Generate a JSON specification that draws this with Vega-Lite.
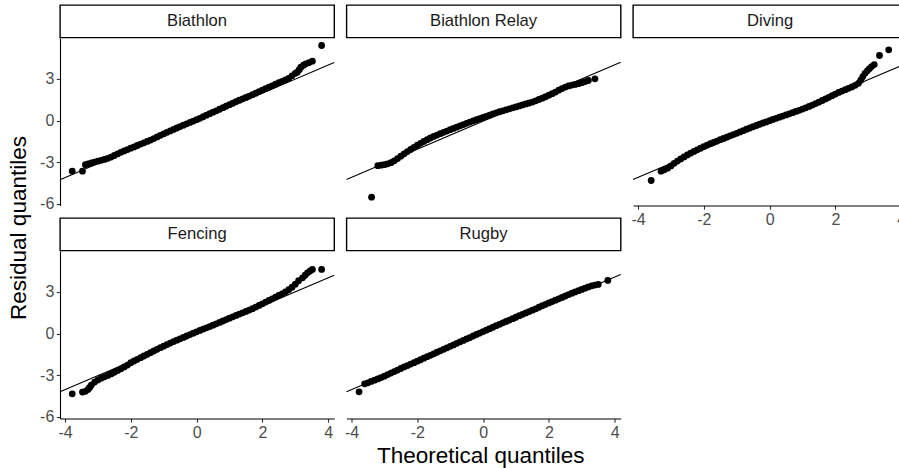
{
"$schema": "https://vega.github.io/schema/vega-lite/v6.json",
"padding": {"left": 7, "top": 4, "right": 0, "bottom": 0},
"background": "white",
"config": {
  "view": {"stroke": null},
  "font": "Liberation Sans",
  "axis": {"grid": false, "domainColor": "black", "domainWidth": 1.1, "tickColor": "#333333", "tickWidth": 1.1, "tickSize": 3.7, "labelColor": "#4D4D4D", "labelFontSize": 16, "labelPadding": 2.5, "labelFlush": false, "titleFontSize": 22.5, "titleFontWeight": "normal", "titleColor": "black", "labelFont": "Liberation Sans", "titleFont": "Liberation Sans", "titlePadding": 4, "labelExpr": "replace(datum.label, '\u2212', '-')"}
},
"datasets": {
  "qqline": [
    {"sport": "Biathlon", "theoretical": -4.152, "residual": -4.27, "theoretical_end": 4.182, "residual_end": 4.18},
    {"sport": "Biathlon Relay", "theoretical": -4.152, "residual": -4.25, "theoretical_end": 4.182, "residual_end": 4.20},
    {"sport": "Diving", "theoretical": -4.152, "residual": -4.25, "theoretical_end": 4.182, "residual_end": 4.13},
    {"sport": "Fencing", "theoretical": -4.152, "residual": -4.20, "theoretical_end": 4.182, "residual_end": 4.20},
    {"sport": "Rugby", "theoretical": -4.152, "residual": -4.20, "theoretical_end": 4.182, "residual_end": 4.25}
  ],
  "Biathlon": [
    {"theoretical": -3.78, "residual": -3.65}, {"theoretical": -3.47, "residual": -3.65}, {"theoretical": -3.38, "residual": -3.18},
    {"theoretical": -3.3, "residual": -3.12}, {"theoretical": -3.2, "residual": -3.06}, {"theoretical": -3.1, "residual": -2.99},
    {"theoretical": -3.0, "residual": -2.93}, {"theoretical": -2.9, "residual": -2.87}, {"theoretical": -2.8, "residual": -2.80},
    {"theoretical": -2.7, "residual": -2.72}, {"theoretical": -2.6, "residual": -2.63}, {"theoretical": -2.5, "residual": -2.52},
    {"theoretical": -2.4, "residual": -2.40}, {"theoretical": -2.3, "residual": -2.29}, {"theoretical": -2.2, "residual": -2.19},
    {"theoretical": -2.1, "residual": -2.09}, {"theoretical": -2.0, "residual": -1.99}, {"theoretical": -1.9, "residual": -1.90},
    {"theoretical": -1.8, "residual": -1.80}, {"theoretical": -1.7, "residual": -1.70}, {"theoretical": -1.6, "residual": -1.61},
    {"theoretical": -1.5, "residual": -1.51}, {"theoretical": -1.4, "residual": -1.41}, {"theoretical": -1.3, "residual": -1.30},
    {"theoretical": -1.2, "residual": -1.18}, {"theoretical": -1.1, "residual": -1.07}, {"theoretical": -1.0, "residual": -0.96},
    {"theoretical": -0.9, "residual": -0.85}, {"theoretical": -0.8, "residual": -0.75}, {"theoretical": -0.7, "residual": -0.64},
    {"theoretical": -0.6, "residual": -0.54}, {"theoretical": -0.5, "residual": -0.44}, {"theoretical": -0.4, "residual": -0.34},
    {"theoretical": -0.3, "residual": -0.24}, {"theoretical": -0.2, "residual": -0.14}, {"theoretical": -0.1, "residual": -0.04},
    {"theoretical": 0.0, "residual": 0.06}, {"theoretical": 0.1, "residual": 0.16}, {"theoretical": 0.2, "residual": 0.27},
    {"theoretical": 0.3, "residual": 0.38}, {"theoretical": 0.4, "residual": 0.49}, {"theoretical": 0.5, "residual": 0.60},
    {"theoretical": 0.6, "residual": 0.70}, {"theoretical": 0.7, "residual": 0.81}, {"theoretical": 0.8, "residual": 0.92},
    {"theoretical": 0.9, "residual": 1.03}, {"theoretical": 1.0, "residual": 1.14}, {"theoretical": 1.1, "residual": 1.25},
    {"theoretical": 1.2, "residual": 1.36}, {"theoretical": 1.3, "residual": 1.46}, {"theoretical": 1.4, "residual": 1.56},
    {"theoretical": 1.5, "residual": 1.66}, {"theoretical": 1.6, "residual": 1.76}, {"theoretical": 1.7, "residual": 1.86},
    {"theoretical": 1.8, "residual": 1.97}, {"theoretical": 1.9, "residual": 2.08}, {"theoretical": 2.0, "residual": 2.19},
    {"theoretical": 2.1, "residual": 2.30}, {"theoretical": 2.2, "residual": 2.40}, {"theoretical": 2.3, "residual": 2.50},
    {"theoretical": 2.4, "residual": 2.61}, {"theoretical": 2.5, "residual": 2.72}, {"theoretical": 2.6, "residual": 2.82},
    {"theoretical": 2.7, "residual": 2.92}, {"theoretical": 2.8, "residual": 3.04}, {"theoretical": 2.9, "residual": 3.22},
    {"theoretical": 3.0, "residual": 3.40}, {"theoretical": 3.06, "residual": 3.48}, {"theoretical": 3.12, "residual": 3.66},
    {"theoretical": 3.17, "residual": 3.84}, {"theoretical": 3.25, "residual": 3.98}, {"theoretical": 3.32, "residual": 4.08},
    {"theoretical": 3.42, "residual": 4.17}, {"theoretical": 3.52, "residual": 4.27}, {"theoretical": 3.8, "residual": 5.40}
  ],
  "Biathlon Relay": [
    {"theoretical": -3.39, "residual": -5.52}, {"theoretical": -3.2, "residual": -3.25}, {"theoretical": -3.1, "residual": -3.22},
    {"theoretical": -3.0, "residual": -3.18}, {"theoretical": -2.9, "residual": -3.12}, {"theoretical": -2.8, "residual": -3.04},
    {"theoretical": -2.7, "residual": -2.90}, {"theoretical": -2.6, "residual": -2.74}, {"theoretical": -2.5, "residual": -2.57},
    {"theoretical": -2.4, "residual": -2.40}, {"theoretical": -2.3, "residual": -2.24}, {"theoretical": -2.2, "residual": -2.08},
    {"theoretical": -2.1, "residual": -1.93}, {"theoretical": -2.0, "residual": -1.78}, {"theoretical": -1.9, "residual": -1.64},
    {"theoretical": -1.8, "residual": -1.51}, {"theoretical": -1.7, "residual": -1.38}, {"theoretical": -1.6, "residual": -1.26},
    {"theoretical": -1.5, "residual": -1.15}, {"theoretical": -1.4, "residual": -1.05}, {"theoretical": -1.3, "residual": -0.95},
    {"theoretical": -1.2, "residual": -0.85}, {"theoretical": -1.1, "residual": -0.76}, {"theoretical": -1.0, "residual": -0.66},
    {"theoretical": -0.9, "residual": -0.57}, {"theoretical": -0.8, "residual": -0.48}, {"theoretical": -0.7, "residual": -0.38},
    {"theoretical": -0.6, "residual": -0.29}, {"theoretical": -0.5, "residual": -0.20}, {"theoretical": -0.4, "residual": -0.11},
    {"theoretical": -0.3, "residual": -0.03}, {"theoretical": -0.2, "residual": 0.06}, {"theoretical": -0.1, "residual": 0.14},
    {"theoretical": 0.0, "residual": 0.22}, {"theoretical": 0.1, "residual": 0.30}, {"theoretical": 0.2, "residual": 0.38},
    {"theoretical": 0.3, "residual": 0.47}, {"theoretical": 0.4, "residual": 0.55}, {"theoretical": 0.5, "residual": 0.63},
    {"theoretical": 0.6, "residual": 0.70}, {"theoretical": 0.7, "residual": 0.77}, {"theoretical": 0.8, "residual": 0.84},
    {"theoretical": 0.9, "residual": 0.91}, {"theoretical": 1.0, "residual": 0.98}, {"theoretical": 1.1, "residual": 1.05},
    {"theoretical": 1.2, "residual": 1.12}, {"theoretical": 1.3, "residual": 1.19}, {"theoretical": 1.4, "residual": 1.26},
    {"theoretical": 1.5, "residual": 1.33}, {"theoretical": 1.6, "residual": 1.42}, {"theoretical": 1.7, "residual": 1.52},
    {"theoretical": 1.8, "residual": 1.61}, {"theoretical": 1.9, "residual": 1.71}, {"theoretical": 2.0, "residual": 1.82},
    {"theoretical": 2.1, "residual": 1.93}, {"theoretical": 2.2, "residual": 2.05}, {"theoretical": 2.3, "residual": 2.18},
    {"theoretical": 2.4, "residual": 2.30}, {"theoretical": 2.5, "residual": 2.41}, {"theoretical": 2.6, "residual": 2.49},
    {"theoretical": 2.7, "residual": 2.55}, {"theoretical": 2.8, "residual": 2.60}, {"theoretical": 2.9, "residual": 2.65},
    {"theoretical": 3.0, "residual": 2.72}, {"theoretical": 3.1, "residual": 2.80}, {"theoretical": 3.2, "residual": 2.88},
    {"theoretical": 3.4, "residual": 3.00}
  ],
  "Diving": [
    {"theoretical": -3.6, "residual": -4.32}, {"theoretical": -3.3, "residual": -3.65}, {"theoretical": -3.2, "residual": -3.55},
    {"theoretical": -3.1, "residual": -3.43}, {"theoretical": -3.0, "residual": -3.27}, {"theoretical": -2.9, "residual": -3.08},
    {"theoretical": -2.8, "residual": -2.92}, {"theoretical": -2.7, "residual": -2.77}, {"theoretical": -2.6, "residual": -2.62},
    {"theoretical": -2.5, "residual": -2.48}, {"theoretical": -2.4, "residual": -2.35}, {"theoretical": -2.3, "residual": -2.23},
    {"theoretical": -2.2, "residual": -2.11}, {"theoretical": -2.1, "residual": -1.99}, {"theoretical": -2.0, "residual": -1.88},
    {"theoretical": -1.9, "residual": -1.77}, {"theoretical": -1.8, "residual": -1.67}, {"theoretical": -1.7, "residual": -1.57},
    {"theoretical": -1.6, "residual": -1.48}, {"theoretical": -1.5, "residual": -1.38}, {"theoretical": -1.4, "residual": -1.29},
    {"theoretical": -1.3, "residual": -1.20}, {"theoretical": -1.2, "residual": -1.10}, {"theoretical": -1.1, "residual": -1.01},
    {"theoretical": -1.0, "residual": -0.92}, {"theoretical": -0.9, "residual": -0.82}, {"theoretical": -0.8, "residual": -0.73},
    {"theoretical": -0.7, "residual": -0.63}, {"theoretical": -0.6, "residual": -0.54}, {"theoretical": -0.5, "residual": -0.45},
    {"theoretical": -0.4, "residual": -0.36}, {"theoretical": -0.3, "residual": -0.27}, {"theoretical": -0.2, "residual": -0.18},
    {"theoretical": -0.1, "residual": -0.10}, {"theoretical": 0.0, "residual": -0.01}, {"theoretical": 0.1, "residual": 0.08},
    {"theoretical": 0.2, "residual": 0.16}, {"theoretical": 0.3, "residual": 0.24}, {"theoretical": 0.4, "residual": 0.32},
    {"theoretical": 0.5, "residual": 0.40}, {"theoretical": 0.6, "residual": 0.48}, {"theoretical": 0.7, "residual": 0.56},
    {"theoretical": 0.8, "residual": 0.65}, {"theoretical": 0.9, "residual": 0.73}, {"theoretical": 1.0, "residual": 0.82},
    {"theoretical": 1.1, "residual": 0.91}, {"theoretical": 1.2, "residual": 1.01}, {"theoretical": 1.3, "residual": 1.11},
    {"theoretical": 1.4, "residual": 1.22}, {"theoretical": 1.5, "residual": 1.33}, {"theoretical": 1.6, "residual": 1.44},
    {"theoretical": 1.7, "residual": 1.55}, {"theoretical": 1.8, "residual": 1.67}, {"theoretical": 1.9, "residual": 1.79},
    {"theoretical": 2.0, "residual": 1.90}, {"theoretical": 2.1, "residual": 2.02}, {"theoretical": 2.2, "residual": 2.12},
    {"theoretical": 2.3, "residual": 2.22}, {"theoretical": 2.4, "residual": 2.32}, {"theoretical": 2.5, "residual": 2.42},
    {"theoretical": 2.6, "residual": 2.53}, {"theoretical": 2.7, "residual": 2.68}, {"theoretical": 2.77, "residual": 2.90},
    {"theoretical": 2.83, "residual": 3.15}, {"theoretical": 2.9, "residual": 3.40}, {"theoretical": 2.97, "residual": 3.58},
    {"theoretical": 3.03, "residual": 3.72}, {"theoretical": 3.1, "residual": 3.88}, {"theoretical": 3.18, "residual": 4.03},
    {"theoretical": 3.34, "residual": 4.68}, {"theoretical": 3.62, "residual": 5.09}
  ],
  "Fencing": [
    {"theoretical": -3.78, "residual": -4.34}, {"theoretical": -3.47, "residual": -4.22}, {"theoretical": -3.38, "residual": -4.16},
    {"theoretical": -3.3, "residual": -4.03}, {"theoretical": -3.25, "residual": -3.88}, {"theoretical": -3.2, "residual": -3.72},
    {"theoretical": -3.1, "residual": -3.50}, {"theoretical": -3.0, "residual": -3.34}, {"theoretical": -2.9, "residual": -3.22},
    {"theoretical": -2.8, "residual": -3.12}, {"theoretical": -2.7, "residual": -3.02}, {"theoretical": -2.6, "residual": -2.91},
    {"theoretical": -2.5, "residual": -2.79}, {"theoretical": -2.4, "residual": -2.67}, {"theoretical": -2.3, "residual": -2.54},
    {"theoretical": -2.2, "residual": -2.41}, {"theoretical": -2.1, "residual": -2.27}, {"theoretical": -2.0, "residual": -2.10},
    {"theoretical": -1.9, "residual": -1.98}, {"theoretical": -1.8, "residual": -1.86}, {"theoretical": -1.7, "residual": -1.74},
    {"theoretical": -1.6, "residual": -1.62}, {"theoretical": -1.5, "residual": -1.50}, {"theoretical": -1.4, "residual": -1.38},
    {"theoretical": -1.3, "residual": -1.26}, {"theoretical": -1.2, "residual": -1.14}, {"theoretical": -1.1, "residual": -1.02},
    {"theoretical": -1.0, "residual": -0.91}, {"theoretical": -0.9, "residual": -0.80}, {"theoretical": -0.8, "residual": -0.69},
    {"theoretical": -0.7, "residual": -0.58}, {"theoretical": -0.6, "residual": -0.48}, {"theoretical": -0.5, "residual": -0.38},
    {"theoretical": -0.4, "residual": -0.28}, {"theoretical": -0.3, "residual": -0.18}, {"theoretical": -0.2, "residual": -0.08},
    {"theoretical": -0.1, "residual": 0.02}, {"theoretical": 0.0, "residual": 0.12}, {"theoretical": 0.1, "residual": 0.22},
    {"theoretical": 0.2, "residual": 0.32}, {"theoretical": 0.3, "residual": 0.41}, {"theoretical": 0.4, "residual": 0.50},
    {"theoretical": 0.5, "residual": 0.60}, {"theoretical": 0.6, "residual": 0.70}, {"theoretical": 0.7, "residual": 0.80},
    {"theoretical": 0.8, "residual": 0.90}, {"theoretical": 0.9, "residual": 1.00}, {"theoretical": 1.0, "residual": 1.10},
    {"theoretical": 1.1, "residual": 1.20}, {"theoretical": 1.2, "residual": 1.30}, {"theoretical": 1.3, "residual": 1.40},
    {"theoretical": 1.4, "residual": 1.49}, {"theoretical": 1.5, "residual": 1.59}, {"theoretical": 1.6, "residual": 1.69},
    {"theoretical": 1.7, "residual": 1.79}, {"theoretical": 1.8, "residual": 1.90}, {"theoretical": 1.9, "residual": 2.02},
    {"theoretical": 2.0, "residual": 2.14}, {"theoretical": 2.1, "residual": 2.26}, {"theoretical": 2.2, "residual": 2.38},
    {"theoretical": 2.3, "residual": 2.50}, {"theoretical": 2.4, "residual": 2.62}, {"theoretical": 2.5, "residual": 2.74},
    {"theoretical": 2.6, "residual": 2.86}, {"theoretical": 2.7, "residual": 3.00}, {"theoretical": 2.8, "residual": 3.15},
    {"theoretical": 2.9, "residual": 3.33}, {"theoretical": 3.0, "residual": 3.55}, {"theoretical": 3.1, "residual": 3.80},
    {"theoretical": 3.22, "residual": 4.01}, {"theoretical": 3.3, "residual": 4.20}, {"theoretical": 3.37, "residual": 4.37},
    {"theoretical": 3.45, "residual": 4.50}, {"theoretical": 3.52, "residual": 4.61}, {"theoretical": 3.8, "residual": 4.61}
  ],
  "Rugby": [
    {"theoretical": -3.77, "residual": -4.20}, {"theoretical": -3.6, "residual": -3.62}, {"theoretical": -3.5, "residual": -3.55},
    {"theoretical": -3.4, "residual": -3.45}, {"theoretical": -3.3, "residual": -3.36}, {"theoretical": -3.2, "residual": -3.27},
    {"theoretical": -3.1, "residual": -3.17}, {"theoretical": -3.0, "residual": -3.07}, {"theoretical": -2.9, "residual": -2.96},
    {"theoretical": -2.8, "residual": -2.85}, {"theoretical": -2.7, "residual": -2.74}, {"theoretical": -2.6, "residual": -2.63},
    {"theoretical": -2.5, "residual": -2.52}, {"theoretical": -2.4, "residual": -2.41}, {"theoretical": -2.3, "residual": -2.31},
    {"theoretical": -2.2, "residual": -2.20}, {"theoretical": -2.1, "residual": -2.10}, {"theoretical": -2.0, "residual": -1.99},
    {"theoretical": -1.9, "residual": -1.89}, {"theoretical": -1.8, "residual": -1.78}, {"theoretical": -1.7, "residual": -1.67},
    {"theoretical": -1.6, "residual": -1.57}, {"theoretical": -1.5, "residual": -1.46}, {"theoretical": -1.4, "residual": -1.35},
    {"theoretical": -1.3, "residual": -1.25}, {"theoretical": -1.2, "residual": -1.14}, {"theoretical": -1.1, "residual": -1.03},
    {"theoretical": -1.0, "residual": -0.92}, {"theoretical": -0.9, "residual": -0.82}, {"theoretical": -0.8, "residual": -0.71},
    {"theoretical": -0.7, "residual": -0.60}, {"theoretical": -0.6, "residual": -0.50}, {"theoretical": -0.5, "residual": -0.39},
    {"theoretical": -0.4, "residual": -0.29}, {"theoretical": -0.3, "residual": -0.18}, {"theoretical": -0.2, "residual": -0.07},
    {"theoretical": -0.1, "residual": 0.03}, {"theoretical": 0.0, "residual": 0.14}, {"theoretical": 0.1, "residual": 0.24},
    {"theoretical": 0.2, "residual": 0.35}, {"theoretical": 0.3, "residual": 0.45}, {"theoretical": 0.4, "residual": 0.56},
    {"theoretical": 0.5, "residual": 0.66}, {"theoretical": 0.6, "residual": 0.77}, {"theoretical": 0.7, "residual": 0.87},
    {"theoretical": 0.8, "residual": 0.97}, {"theoretical": 0.9, "residual": 1.07}, {"theoretical": 1.0, "residual": 1.17},
    {"theoretical": 1.1, "residual": 1.28}, {"theoretical": 1.2, "residual": 1.38}, {"theoretical": 1.3, "residual": 1.48},
    {"theoretical": 1.4, "residual": 1.58}, {"theoretical": 1.5, "residual": 1.68}, {"theoretical": 1.6, "residual": 1.78},
    {"theoretical": 1.7, "residual": 1.89}, {"theoretical": 1.8, "residual": 2.00}, {"theoretical": 1.9, "residual": 2.10},
    {"theoretical": 2.0, "residual": 2.20}, {"theoretical": 2.1, "residual": 2.30}, {"theoretical": 2.2, "residual": 2.40},
    {"theoretical": 2.3, "residual": 2.50}, {"theoretical": 2.4, "residual": 2.60}, {"theoretical": 2.5, "residual": 2.70},
    {"theoretical": 2.6, "residual": 2.80}, {"theoretical": 2.7, "residual": 2.90}, {"theoretical": 2.8, "residual": 2.99},
    {"theoretical": 2.9, "residual": 3.08}, {"theoretical": 3.0, "residual": 3.17}, {"theoretical": 3.1, "residual": 3.26},
    {"theoretical": 3.2, "residual": 3.35}, {"theoretical": 3.3, "residual": 3.43}, {"theoretical": 3.4, "residual": 3.49},
    {"theoretical": 3.5, "residual": 3.53}, {"theoretical": 3.79, "residual": 3.82}
  ]
},
"columns": 3,
"bounds": "flush",
"align": "each",
"spacing": {"row": 0, "column": 11.5},
"concat": [
  {"width": 274.2, "height": 32.5, "view": {"stroke": "black", "strokeWidth": 1.4, "fill": "white"}, "data": {"values": [{"sport": "Biathlon"}]}, "mark": {"type": "text", "fontSize": 16.6, "color": "#1A1A1A"}, "encoding": {"text": {"field": "sport"}}},
  {"width": 274.2, "height": 32.5, "view": {"stroke": "black", "strokeWidth": 1.4, "fill": "white"}, "data": {"values": [{"sport": "Biathlon Relay"}]}, "mark": {"type": "text", "fontSize": 16.6, "color": "#1A1A1A"}, "encoding": {"text": {"field": "sport"}}},
  {"width": 274.2, "height": 32.5, "view": {"stroke": "black", "strokeWidth": 1.4, "fill": "white"}, "data": {"values": [{"sport": "Diving"}]}, "mark": {"type": "text", "fontSize": 16.6, "color": "#1A1A1A"}, "encoding": {"text": {"field": "sport"}}},
  {"width": 274.2, "height": 167.5,
   "encoding": {"x": {"field": "theoretical", "type": "quantitative", "scale": {"domain": [-4.152, 4.182], "nice": false, "zero": false}, "axis": null},
                "y": {"field": "residual", "type": "quantitative", "scale": {"domain": [-6.12, 5.94], "nice": false, "zero": false}, "axis": {"values": [-6, -3, 0, 3], "title": "Residual quantiles", "titleY": 189.5, "titlePadding": 9}}},
   "layer": [
    {"data": {"name": "Biathlon"}, "mark": {"type": "circle", "color": "black", "opacity": 1, "size": 46}},
    {"data": {"name": "qqline"}, "transform": [{"filter": {"field": "sport", "equal": "Biathlon"}}], "mark": {"type": "rule", "color": "black", "strokeWidth": 1.1},
     "encoding": {"x2": {"field": "theoretical_end"}, "y2": {"field": "residual_end"}}}
  ]},
  {"width": 274.2, "height": 167.5,
   "encoding": {"x": {"field": "theoretical", "type": "quantitative", "scale": {"domain": [-4.152, 4.182], "nice": false, "zero": false}, "axis": null},
                "y": {"field": "residual", "type": "quantitative", "scale": {"domain": [-6.12, 5.94], "nice": false, "zero": false}, "axis": null}},
   "layer": [
    {"data": {"name": "Biathlon Relay"}, "mark": {"type": "circle", "color": "black", "opacity": 1, "size": 46}},
    {"data": {"name": "qqline"}, "transform": [{"filter": {"field": "sport", "equal": "Biathlon Relay"}}], "mark": {"type": "rule", "color": "black", "strokeWidth": 1.1},
     "encoding": {"x2": {"field": "theoretical_end"}, "y2": {"field": "residual_end"}}}
  ]},
  {"width": 274.2, "height": 167.5,
   "encoding": {"x": {"field": "theoretical", "type": "quantitative", "scale": {"domain": [-4.152, 4.182], "nice": false, "zero": false}, "axis": {"values": [-4, -2, 0, 2, 4], "title": null}},
                "y": {"field": "residual", "type": "quantitative", "scale": {"domain": [-6.12, 5.94], "nice": false, "zero": false}, "axis": null}},
   "layer": [
    {"data": {"name": "Diving"}, "mark": {"type": "circle", "color": "black", "opacity": 1, "size": 46}},
    {"data": {"name": "qqline"}, "transform": [{"filter": {"field": "sport", "equal": "Diving"}}], "mark": {"type": "rule", "color": "black", "strokeWidth": 1.1},
     "encoding": {"x2": {"field": "theoretical_end"}, "y2": {"field": "residual_end"}}}
  ]},
  {"width": 274.2, "height": 11.2, "data": {"values": []}, "mark": "point"},
  {"width": 274.2, "height": 11.2, "data": {"values": []}, "mark": "point"},
  {"width": 274.2, "height": 11.2, "data": {"values": []}, "mark": "point"},
  {"width": 274.2, "height": 32.5, "view": {"stroke": "black", "strokeWidth": 1.4, "fill": "white"}, "data": {"values": [{"sport": "Fencing"}]}, "mark": {"type": "text", "fontSize": 16.6, "color": "#1A1A1A"}, "encoding": {"text": {"field": "sport"}}},
  {"width": 274.2, "height": 32.5, "view": {"stroke": "black", "strokeWidth": 1.4, "fill": "white"}, "data": {"values": [{"sport": "Rugby"}]}, "mark": {"type": "text", "fontSize": 16.6, "color": "#1A1A1A"}, "encoding": {"text": {"field": "sport"}}},
  {"width": 1, "height": 32.5, "data": {"values": []}, "mark": "point"},
  {"width": 274.2, "height": 167.5,
   "encoding": {"x": {"field": "theoretical", "type": "quantitative", "scale": {"domain": [-4.152, 4.182], "nice": false, "zero": false}, "axis": {"values": [-4, -2, 0, 2, 4], "title": null}},
                "y": {"field": "residual", "type": "quantitative", "scale": {"domain": [-6.12, 5.94], "nice": false, "zero": false}, "axis": {"values": [-6, -3, 0, 3], "title": null}}},
   "layer": [
    {"data": {"name": "Fencing"}, "mark": {"type": "circle", "color": "black", "opacity": 1, "size": 46}},
    {"data": {"name": "qqline"}, "transform": [{"filter": {"field": "sport", "equal": "Fencing"}}], "mark": {"type": "rule", "color": "black", "strokeWidth": 1.1},
     "encoding": {"x2": {"field": "theoretical_end"}, "y2": {"field": "residual_end"}}}
  ]},
  {"width": 274.2, "height": 167.5,
   "encoding": {"x": {"field": "theoretical", "type": "quantitative", "scale": {"domain": [-4.152, 4.182], "nice": false, "zero": false}, "axis": {"values": [-4, -2, 0, 2, 4], "title": "Theoretical quantiles", "titleX": 133.7}},
                "y": {"field": "residual", "type": "quantitative", "scale": {"domain": [-6.12, 5.94], "nice": false, "zero": false}, "axis": null}},
   "layer": [
    {"data": {"name": "Rugby"}, "mark": {"type": "circle", "color": "black", "opacity": 1, "size": 46}},
    {"data": {"name": "qqline"}, "transform": [{"filter": {"field": "sport", "equal": "Rugby"}}], "mark": {"type": "rule", "color": "black", "strokeWidth": 1.1},
     "encoding": {"x2": {"field": "theoretical_end"}, "y2": {"field": "residual_end"}}}
  ]}
]
}
